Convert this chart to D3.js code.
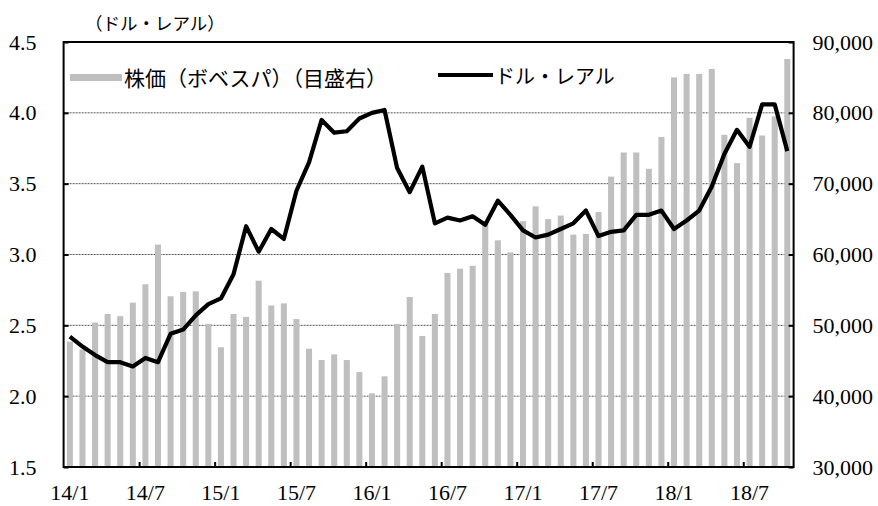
<!DOCTYPE html>
<html><head><meta charset="utf-8">
<script src="https://cdn.jsdelivr.net/npm/d3@7"></script>
<style>
body{margin:0;background:#fff}
svg{display:block}
text{font-family:"Liberation Serif","Noto Sans CJK JP",serif;fill:#000}
.jp{font-family:"Noto Sans CJK JP","Liberation Serif",sans-serif}
</style>
</head><body><svg id="c" width="878" height="506"></svg>
<script>
const months = [
 "14/1","14/2","14/3","14/4","14/5","14/6","14/7","14/8","14/9","14/10","14/11","14/12",
 "15/1","15/2","15/3","15/4","15/5","15/6","15/7","15/8","15/9","15/10","15/11","15/12",
 "16/1","16/2","16/3","16/4","16/5","16/6","16/7","16/8","16/9","16/10","16/11","16/12",
 "17/1","17/2","17/3","17/4","17/5","17/6","17/7","17/8","17/9","17/10","17/11","17/12",
 "18/1","18/2","18/3","18/4","18/5","18/6","18/7","18/8","18/9","18/10"];
const stockValues = [
 47700,46600,50400,51600,51300,53200,55800,61400,54100,54700,54800,50200,
 46900,51600,51200,56300,52800,53100,50900,46700,45100,45900,45100,43400,
 40400,42800,50200,54000,48500,51600,57400,58000,58400,64300,62000,60300,
 64700,66800,65000,65500,62800,62900,66000,71000,74400,74400,72100,76600,
 85000,85500,85500,86200,76900,72900,79300,76800,79500,87600];
const brlValues = [
 2.42,2.35,2.29,2.24,2.24,2.21,2.27,2.24,2.44,2.47,2.57,2.65,
 2.69,2.86,3.20,3.02,3.18,3.11,3.45,3.65,3.95,3.86,3.87,3.96,
 4.00,4.02,3.61,3.44,3.62,3.22,3.26,3.24,3.27,3.21,3.38,3.28,
 3.17,3.12,3.14,3.18,3.22,3.31,3.13,3.16,3.17,3.28,3.28,3.31,
 3.18,3.24,3.31,3.48,3.71,3.88,3.76,4.06,4.06,3.73];
const xTickLabels = ["14/1","14/7","15/1","15/7","16/1","16/7","17/1","17/7","18/1","18/7"];
const leftTicks = [1.5,2.0,2.5,3.0,3.5,4.0,4.5];
const rightTicks = [30000,40000,50000,60000,70000,80000,90000];
const seriesNames = ["株価（ボベスパ）（目盛右）","ドル・レアル"];
const leftAxisTitle = "（ドル・レアル）";

const L=63.6, R=793.6, T=42, B=467;
const svg = d3.select("#c");

const x = d3.scaleBand().domain(months).range([L,R]).paddingInner(0.52).paddingOuter(0.26);
const yL = d3.scaleLinear().domain([1.5,4.5]).range([B,T]);
const yR = d3.scaleLinear().domain([30000,90000]).range([B,T]);
const idx = d3.scaleLinear().domain([0,months.length]).range([L,R]);
const cx = m => x(m) + x.bandwidth()/2;

// gridlines
svg.append("g").selectAll("line").data(leftTicks.slice(1,-1)).join("line")
  .attr("x1",L).attr("x2",R).attr("y1",d=>yL(d)).attr("y2",d=>yL(d))
  .attr("stroke","#555").attr("stroke-width",1).attr("stroke-dasharray","2,1");

// bars
svg.append("g").selectAll("rect").data(months).join("rect")
  .attr("x",m=>x(m)).attr("width",x.bandwidth())
  .attr("y",(m,i)=>yR(stockValues[i])).attr("height",(m,i)=>B-yR(stockValues[i]))
  .attr("fill","#bfbfbf");

// line
svg.append("path").datum(months)
  .attr("d", d3.line().x(m=>cx(m)).y((m,i)=>yL(brlValues[i])))
  .attr("fill","none").attr("stroke","#000").attr("stroke-width",4.2)
  .attr("stroke-linejoin","round");

// frame
svg.append("rect").attr("x",L).attr("y",T).attr("width",R-L).attr("height",B-T)
  .attr("fill","none").attr("stroke","#000").attr("stroke-width",2);

// axes
const gl = svg.append("g").attr("transform",`translate(${L},0)`)
  .call(d3.axisLeft(yL).tickValues(leftTicks).tickFormat(d3.format(".1f"))
    .tickSizeInner(-5).tickSizeOuter(0).tickPadding(27));
const gr = svg.append("g").attr("transform",`translate(${R},0)`)
  .call(d3.axisRight(yR).tickValues(rightTicks).tickFormat(d3.format(","))
    .tickSizeInner(-5).tickSizeOuter(0).tickPadding(19));
const gb = svg.append("g").attr("transform",`translate(0,${B})`)
  .call(d3.axisBottom(x).tickValues(xTickLabels).tickSize(0).tickPadding(17));
const gt = svg.append("g").attr("transform",`translate(0,${B})`)
  .call(d3.axisBottom(idx).tickValues(d3.range(6,months.length,6)).tickSize(-5).tickFormat(""));
[gl,gr,gb,gt].forEach(g=>{
  g.select(".domain").remove();
  g.selectAll(".tick line").attr("stroke","#000").attr("stroke-width",2);
  g.selectAll("text").attr("font-size",22).attr("font-family","Liberation Serif");
});

// title
svg.append("text").attr("class","jp").attr("x",85).attr("y",22)
  .attr("dominant-baseline","central").attr("font-size",17.5).text(leftAxisTitle);

// legend
svg.append("rect").attr("x",70).attr("y",74).attr("width",52).attr("height",7).attr("fill","#bfbfbf");
svg.append("text").attr("class","jp").attr("x",124).attr("y",77)
  .attr("dominant-baseline","central").attr("font-size",21).text(seriesNames[0]);
svg.append("line").attr("x1",438).attr("x2",493).attr("y1",75).attr("y2",75)
  .attr("stroke","#000").attr("stroke-width",4);
svg.append("text").attr("class","jp").attr("x",495).attr("y",75)
  .attr("dominant-baseline","central").attr("font-size",20).text(seriesNames[1]);
</script>
</body></html>
